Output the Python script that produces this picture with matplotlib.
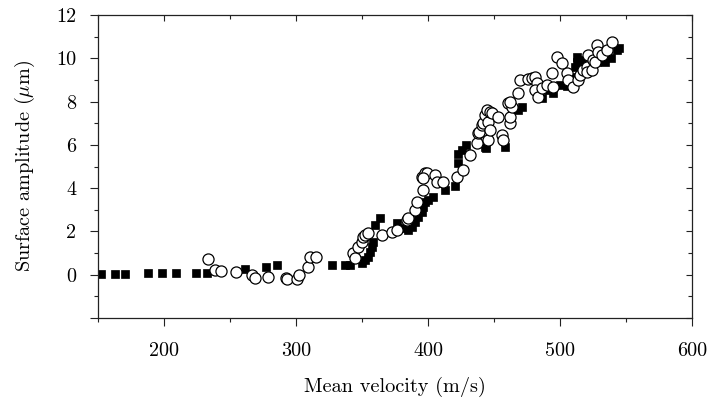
import matplotlib
matplotlib.use("Agg")
import matplotlib.pyplot as plt
from matplotlib.ticker import FixedLocator, FuncFormatter

plt.rcParams['font.family'] = ['cmr10', 'DejaVu Serif']
plt.rcParams['mathtext.fontset'] = 'cm'
plt.rcParams['axes.unicode_minus'] = False

# Filled squares series
sq_x = [152.3, 162.9, 170.5, 187.9, 198.5, 209, 224.2, 232.6, 261.4, 277.3, 285.6,
        327, 337, 341, 349.8, 352, 354.5, 356, 357.3, 358.6, 359.8, 363.6,
        376.3, 380, 385, 387.6, 390, 392.6, 395.2, 396.4, 397.7, 400, 404, 413,
        420.5, 421.7, 423, 423, 425.5, 429, 443, 444, 458,
        468, 471, 486, 492, 495, 500, 505, 510, 511.4, 512.6, 512.6, 516.4,
        527.7, 534, 539, 543, 545]
sq_y = [0.02, 0.05, 0.05, 0.08, 0.1, 0.1, 0.1, 0.1, 0.27, 0.36, 0.45,
        0.45, 0.45, 0.45, 0.53, 0.68, 0.83, 1.06, 1.3, 1.52, 2.3, 2.6,
        2.37, 2.14, 2.07, 2.22, 2.45, 2.68, 2.91, 3.14, 3.37, 3.45, 3.6, 3.9,
        4.1, 4.5, 5.15, 5.6, 5.76, 6.0, 5.92, 5.84, 5.92,
        7.6, 7.76, 8.15, 8.53, 8.4, 8.77, 8.7, 9.15, 9.6, 9.84, 10.07, 9.9,
        9.84, 9.84, 10.0, 10.38, 10.46]

# Open circles series
ci_x = [233.6, 238.6, 243, 254.3, 266.4, 269, 278.5, 292.2, 293.4, 300.5, 302.5,
        308.8, 310.6, 314.9,
        343.4, 344.7, 347.2, 349.8, 351, 352.3, 354.8, 364.9, 372.5, 376.3, 383.8,
        385, 390, 391.4, 396.4, 395.2, 397.7, 399, 396.4, 405.3, 406.5, 411.6,
        421.7, 426.3, 431.8, 436.9, 438, 438.6, 440.7, 442, 443.2, 444.5, 445.7,
        445.7, 447, 447, 448.2, 453.3, 455.8, 457, 460.8, 462, 462, 463.3, 462,
        468.4, 469.7, 476, 478.6, 481, 482.3, 481, 483.6, 486.1, 489.9, 494.9,
        493.7, 497.5, 501.3, 505, 506.3, 510, 514, 515.2, 517.7, 520.3, 520.3,
        521.5, 524, 525.3, 526.6, 527.8, 529, 531.6, 535.4, 539.2]
ci_y = [0.71, 0.22, 0.17, 0.14, -0.01, -0.14, -0.09, -0.14, -0.2, -0.2, -0.01,
        0.37, 0.8, 0.83,
        0.99, 0.76, 1.29, 1.52, 1.76, 1.83, 1.91, 1.83, 1.99, 2.07, 2.53,
        2.6, 2.99, 3.37, 3.91, 4.53, 4.69, 4.69, 4.45, 4.61, 4.3, 4.3,
        4.5, 4.84, 5.53, 6.07, 6.53, 6.6, 6.92, 7.0, 7.38, 7.61, 7.07,
        6.22, 6.69, 7.53, 7.46, 7.3, 6.46, 6.22, 7.92, 7.0, 7.3, 7.76, 8.0,
        8.38, 9.0, 9.03, 9.07, 9.15, 8.84, 8.53, 8.22, 8.61, 8.76, 8.69,
        9.3, 10.07, 9.77, 9.3, 9.0, 8.69, 9.0, 9.23, 9.46, 9.61, 9.38,
        10.15, 9.46, 9.92, 9.84, 10.61, 10.3, 10.15, 10.38, 10.77]

x_major = [200, 300, 400, 500, 600]
x_minor = [150, 250, 350, 450, 550]
y_major = [-2, 0, 2, 4, 6, 8, 10, 12]
y_minor = [-1, 1, 3, 5, 7, 9, 11]

fig = plt.figure(figsize=(7.11, 4.05), dpi=100)
ax = fig.add_axes([98/711, 1-318/405, (692-98)/711, (318-15)/405])

ax.plot(sq_x, sq_y, linestyle='none', marker='s', markersize=6.2,
        markerfacecolor='black', markeredgecolor='black', markeredgewidth=0.5)
ax.plot(ci_x, ci_y, linestyle='none', marker='o', markersize=8.0,
        markerfacecolor='white', markeredgecolor='black', markeredgewidth=0.9)

ax.set_xlim(150, 600)
ax.set_ylim(-2, 12)

ax.xaxis.set_major_locator(FixedLocator(x_major))
ax.xaxis.set_minor_locator(FixedLocator(x_minor))
ax.yaxis.set_major_locator(FixedLocator(y_major))
ax.yaxis.set_minor_locator(FixedLocator(y_minor))
ax.yaxis.set_major_formatter(FuncFormatter(lambda v, p: '' if v < 0 else f'{int(v)}'))
ax.xaxis.set_major_formatter(FuncFormatter(lambda v, p: f'{int(v)}'))

for sp in ax.spines.values():
    sp.set_linewidth(0.9)
    sp.set_color('#222222')

ax.tick_params(which='major', direction='out', length=5.5, width=0.8,
               labelsize=14.5, top=False, right=False, color='#222222')
ax.tick_params(which='minor', direction='out', length=3.2, width=0.8,
               top=False, right=False, color='#222222')
ax.tick_params(axis='x', which='major', pad=12)
ax.tick_params(axis='y', which='major', pad=10)

secx = ax.secondary_xaxis('top')
secx.xaxis.set_major_locator(FixedLocator(x_major))
secx.xaxis.set_minor_locator(FixedLocator(x_minor))
secx.tick_params(which='major', direction='in', length=4, width=0.8, labeltop=False, color='#222222')
secx.tick_params(which='minor', direction='in', length=3.2, width=0.8, color='#222222')
secx.spines['top'].set_visible(False)

secy = ax.secondary_yaxis('right')
secy.yaxis.set_major_locator(FixedLocator(y_major))
secy.yaxis.set_minor_locator(FixedLocator(y_minor))
secy.tick_params(which='major', direction='in', length=4, width=0.8, labelright=False, color='#222222')
secy.tick_params(which='minor', direction='in', length=3.2, width=0.8, color='#222222')
secy.spines['right'].set_visible(False)

ax.set_xlabel('Mean velocity (m/s)', fontsize=14.6, labelpad=12)
ax.set_ylabel('Surface amplitude ($\\mu$m)', fontsize=14.6, labelpad=14)

fig.savefig('out.png', dpi=100)
